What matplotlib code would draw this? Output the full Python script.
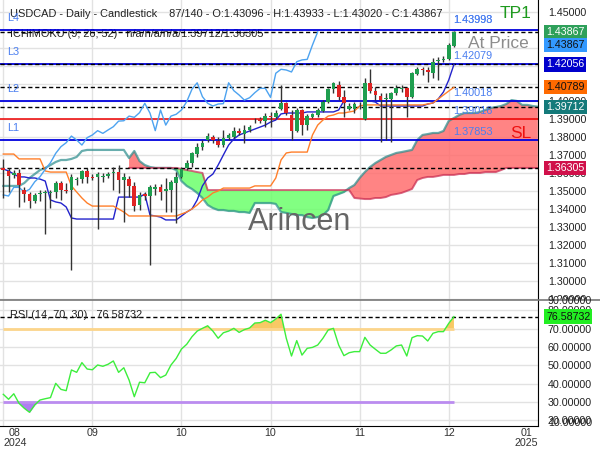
import numpy as np
import matplotlib
matplotlib.use('Agg')
import matplotlib.pyplot as plt
from matplotlib.transforms import blended_transform_factory
from matplotlib.lines import Line2D
from matplotlib.patches import Rectangle
from matplotlib.ticker import FormatStrFormatter

plt.rcParams['font.family'] = ['Liberation Sans', 'DejaVu Sans']

# ---- candle data (87 daily bars) ----
opens = [1.3629, 1.3616, 1.3592, 1.3604, 1.3508, 1.3486, 1.3449, 1.3486, 1.3490, 1.3493,
         1.3499, 1.3549, 1.3508, 1.3508, 1.3562, 1.3568, 1.3614, 1.3582, 1.3579, 1.3579,
         1.3586, 1.3601, 1.3610, 1.3564, 1.3569, 1.3531, 1.3425, 1.3486, 1.3475, 1.3512,
         1.3523, 1.3503, 1.3508, 1.3549, 1.3582, 1.3629, 1.3657, 1.3708, 1.3749, 1.3786,
         1.3801, 1.3782, 1.3758, 1.3796, 1.3804, 1.3838, 1.3819, 1.3842, 1.3891, 1.3901,
         1.3893, 1.3919, 1.3912, 1.3957, 1.3990, 1.3925, 1.3838, 1.3953, 1.3869, 1.3912,
         1.3925, 1.3949, 1.3999, 1.4068, 1.4092, 1.4027, 1.3957, 1.3957, 1.3986, 1.3901,
         1.4104, 1.4060, 1.4031, 1.4012, 1.4012, 1.4046, 1.4068, 1.4073, 1.4023, 1.4153,
         1.4179, 1.4175, 1.4157, 1.4225, 1.4231, 1.4236, 1.43096]
highs = [1.3679, 1.3629, 1.3619, 1.3623, 1.3527, 1.3499, 1.3493, 1.3508, 1.3508, 1.3508,
         1.3560, 1.3560, 1.3546, 1.3596, 1.3582, 1.3619, 1.3629, 1.3597, 1.3610, 1.3604,
         1.3608, 1.3638, 1.3647, 1.3601, 1.3586, 1.3554, 1.3499, 1.3499, 1.3536, 1.3542,
         1.3542, 1.3575, 1.3564, 1.3610, 1.3638, 1.3675, 1.3721, 1.3768, 1.3786, 1.3823,
         1.3814, 1.3804, 1.3842, 1.3823, 1.3860, 1.3851, 1.3869, 1.3869, 1.3907, 1.3912,
         1.3938, 1.3943, 1.3953, 1.4092, 1.3995, 1.3953, 1.3962, 1.3957, 1.3931, 1.3938,
         1.3962, 1.4008, 1.4073, 1.4110, 1.4116, 1.4064, 1.3990, 1.3999, 1.3999, 1.4129,
         1.4179, 1.4082, 1.4046, 1.4046, 1.4054, 1.4092, 1.4092, 1.4082, 1.4166, 1.4190,
         1.4193, 1.4193, 1.4240, 1.4249, 1.4253, 1.4327, 1.43933]
lows = [1.3462, 1.3499, 1.3573, 1.3416, 1.3443, 1.3407, 1.3438, 1.3449, 1.3262, 1.3410,
        1.3462, 1.3453, 1.3490, 1.3064, 1.3536, 1.3546, 1.3546, 1.3564, 1.3292, 1.3554,
        1.3573, 1.3508, 1.3490, 1.3332, 1.3471, 1.3393, 1.3397, 1.3453, 1.3092, 1.3481,
        1.3453, 1.3388, 1.3388, 1.3323, 1.3573, 1.3619, 1.3638, 1.3693, 1.3731, 1.3777,
        1.3768, 1.3749, 1.3749, 1.3786, 1.3796, 1.3814, 1.3768, 1.3832, 1.3879, 1.3882,
        1.3860, 1.3860, 1.3907, 1.3953, 1.3925, 1.3786, 1.3832, 1.3814, 1.3842, 1.3907,
        1.3916, 1.3943, 1.3990, 1.4046, 1.4008, 1.3916, 1.3953, 1.3934, 1.3960, 1.3897,
        1.4046, 1.4008, 1.3777, 1.3786, 1.3777, 1.4036, 1.4054, 1.3916, 1.4018, 1.4147,
        1.4147, 1.4110, 1.4129, 1.4119, 1.4221, 1.4231, 1.43020]
closes = [1.3619, 1.3588, 1.3604, 1.3536, 1.3484, 1.3449, 1.3481, 1.3493, 1.3499, 1.3499,
          1.3549, 1.3508, 1.3503, 1.3582, 1.3568, 1.3614, 1.3582, 1.3577, 1.3599, 1.3586,
          1.3596, 1.3610, 1.3564, 1.3582, 1.3531, 1.3419, 1.3481, 1.3475, 1.3523, 1.3523,
          1.3497, 1.3512, 1.3554, 1.3582, 1.3623, 1.3660, 1.3712, 1.3749, 1.3771, 1.3808,
          1.3786, 1.3758, 1.3799, 1.3814, 1.3838, 1.3823, 1.3842, 1.3860, 1.3891, 1.3893,
          1.3919, 1.3912, 1.3938, 1.3990, 1.3935, 1.3838, 1.3953, 1.3869, 1.3919, 1.3929,
          1.3953, 1.3999, 1.4068, 1.4104, 1.4027, 1.3990, 1.3975, 1.3986, 1.3988, 1.4104,
          1.4060, 1.4036, 1.4008, 1.4021, 1.4049, 1.4073, 1.4073, 1.4023, 1.4157, 1.4179,
          1.4175, 1.4164, 1.4221, 1.4231, 1.4234, 1.4314, 1.43867]

# ---- Ichimoku (9; 26; 52) ----
tenkan = ([1.3625, 1.3614, 1.3597, 1.3581, 1.3581, 1.3575, 1.3575, 1.3569, 1.3558, 1.3453,
           1.3442, 1.3436, 1.3414, 1.3353] + [1.3347] * 8 + [1.3469] * 5 +
          [1.3486, 1.3369, 1.3364, 1.3358, 1.3342, 1.3342, 1.3342, 1.3364, 1.3386, 1.3403,
           1.3453, 1.3531, 1.3575, 1.3597, 1.3647, 1.3703, 1.3758, 1.3792, 1.3814, 1.3825,
           1.3836, 1.3847, 1.3858, 1.3869, 1.3886, 1.3897, 1.3931] + [1.3936] * 4 +
          [1.3942] * 6 + [1.3953] + [1.4003] * 6 + [1.3997] + [1.3975] * 9 +
          [1.3986, 1.3992, 1.4014, 1.4053, 1.4119, 1.42056])
kijun = ([1.3708] * 3 + [1.3681] * 5 + [1.3614] + [1.3608] * 4 +
         [1.3531, 1.3497, 1.3464, 1.3436] + [1.3419] * 5 + [1.3403, 1.3386] + [1.3364] * 10 +
         [1.3375, 1.3386, 1.3403, 1.3425, 1.3453, 1.3469, 1.3492, 1.3503] + [1.3519] * 6 +
         [1.3531] * 4 + [1.3575, 1.3675, 1.3714] + [1.3719] * 4 +
         [1.3814, 1.3869, 1.3897, 1.3919, 1.3925, 1.3936, 1.3936, 1.3942, 1.3947, 1.3975] +
         [1.3981] * 12 + [1.3986, 1.3992, 1.4014, 1.4036, 1.4058, 1.40789])
# senkou spans run 16 bars past the last candle
senkou_a = ([1.3531] * 4 + [1.3547, 1.3575, 1.3597, 1.3619, 1.3631, 1.3647, 1.3664, 1.3675,
            1.3675, 1.3681, 1.3692, 1.3725] + [1.3731] * 8 +
            [1.3686, 1.3725, 1.3669, 1.3647, 1.3636] + [1.3631] * 4 +
            [1.3619, 1.3558, 1.3531, 1.3514, 1.3492, 1.3464, 1.3425, 1.3408, 1.3397, 1.3397,
             1.3392, 1.3392, 1.3386, 1.3386, 1.3381] + [1.3436] * 4 +
            [1.3431, 1.3386, 1.3381, 1.3375, 1.3369, 1.3369, 1.3358, 1.3353, 1.3358, 1.3369,
             1.3397, 1.3475, 1.3486, 1.3497, 1.3519, 1.3536, 1.3575, 1.3608, 1.3636, 1.3658,
             1.3675, 1.3692, 1.3703, 1.3714, 1.3719, 1.3725, 1.3731, 1.3786, 1.3814, 1.3819,
             1.3825, 1.3825, 1.3836, 1.3892, 1.3908, 1.3925, 1.3936, 1.3936, 1.3936, 1.3942,
             1.3953, 1.3964, 1.3969, 1.3975, 1.3986, 1.4008, 1.4003, 1.3981, 1.3981, 1.3975,
             1.39712])
senkou_b = ([np.nan] * 24 + [1.3631] * 10 + [1.3625, 1.3619, 1.3614, 1.3608, 1.3603] +
            [1.3508] * 28 + [1.3464, 1.3461, 1.3458, 1.3458, 1.3464, 1.3464, 1.3469, 1.3481,
            1.3486, 1.3492, 1.3503, 1.3514, 1.3564, 1.3575, 1.3581, 1.3581, 1.3586] +
            [1.3592] * 3 + [1.3597] * 2 + [1.3603] * 3 + [1.3608] * 3 + [1.3619] +
            [1.3631] * 6 + [1.36305])

# ---- RSI (14) ----
rsi = [34.2, 31.5, 34.5, 29.3, 26.6, 24.4, 28.4, 31.1, 31.8, 32.4,
       40.2, 36.9, 36.2, 47.5, 46.2, 51.5, 48.0, 47.6, 50.2, 49.5,
       50.6, 52.4, 46.2, 48.7, 42.0, 32.9, 40.8, 40.5, 46.0, 46.2,
       43.3, 44.7, 50.2, 53.8, 58.9, 61.5, 65.6, 68.7, 70.2, 71.6,
       68.7, 64.8, 67.8, 68.7, 70.2, 68.0, 69.5, 70.4, 73.1, 73.3,
       74.6, 73.3, 75.3, 77.9, 64.8, 55.1, 63.5, 55.6, 59.3, 59.8,
       61.1, 64.8, 69.3, 70.2, 61.1, 55.3, 56.9, 57.5, 57.5, 65.3,
       61.1, 58.8, 56.6, 56.6, 58.4, 60.6, 61.1, 55.1, 65.1, 66.2,
       66.0, 63.3, 67.5, 68.4, 68.4, 72.9, 76.58732]

# ---- levels ----
blue_levels = [1.43993, 1.42079, 1.40018, 1.37853]
blue_names = ['L4', 'L3', 'L2', 'L1']
sl_level = 1.39016
dashed_levels = [1.43867, 1.42056, 1.40789, 1.39712, 1.36305]
tick_pos = [0, 17, 34, 51, 68, 85, 102]
tick_txt = ['08\n2024', '09', '10', '10', '11', '12', '01\n2025']

o = np.array(opens); h = np.array(highs); l = np.array(lows); c = np.array(closes)
n = len(c)
x = np.arange(n)
xs = np.arange(len(senkou_a))
sa = np.array(senkou_a); sb = np.array(senkou_b)
rs = np.array(rsi)
chikou = c[26:]

fig = plt.figure(figsize=(6, 4.5), dpi=100)
ax = fig.add_axes([0, 150 / 450, 538 / 600, 300 / 450])
rx = fig.add_axes([0, 24 / 450, 538 / 600, 126 / 450], sharex=ax)
rx.set_zorder(1)

ax.set_xlim(-0.63, 102.04)
ax.set_ylim(1.28972, 1.45639)
rx.set_ylim(16.92, 85.66)

for a in (ax, rx):
    a.grid(True, color='#e2e2e2', lw=1)
    a.set_axisbelow(True)
    a.spines['top'].set_visible(False)
    a.spines['left'].set_visible(False)
    a.spines['right'].set_color('black')
    a.yaxis.tick_right()
    a.tick_params(axis='y', length=0, pad=7, labelsize=7.7, colors='#222')
    a.yaxis.set_major_formatter(FormatStrFormatter('%.5f'))
    a.set_xticks(tick_pos)
ax.spines['bottom'].set_visible(False)
ax.tick_params(axis='x', length=0, labelbottom=False)
rx.set_xticklabels(tick_txt)
rx.tick_params(axis='x', length=0, pad=1.5, labelsize=7.7, colors='#333')
labs = rx.get_xticklabels()
for t in labs:
    t.set_linespacing(0.95)
    t.set_multialignment('center')
labs[0].set_ha('left')
labs[-1].set_ha('right')
ax.set_yticks(np.round(np.arange(1.29, 1.4501, 0.01), 2))
rx.set_yticks([20, 30, 40, 50, 60, 70, 80])

# cloud
ax.fill_between(xs, sa, sb, where=sa >= sb, interpolate=True, color='#ff6e6e', alpha=0.85, lw=0, zorder=1)
ax.fill_between(xs, sa, sb, where=sa < sb, interpolate=True, color='#6cff6c', alpha=0.85, lw=0, zorder=1)
ax.plot(xs, sa, color='#2a8c8c', lw=1.6, alpha=0.7, zorder=2)
ax.plot(xs, sb, color='#c8284e', lw=1.4, alpha=0.7, zorder=2)

# horizontal levels
for v in blue_levels:
    ax.axhline(v, color='#0000dd', lw=1.3, zorder=2)
ax.axhline(sl_level, color='#ee0000', lw=1.1, zorder=2)
for v in dashed_levels:
    ax.axhline(v, color='black', lw=1, ls=(0, (3, 2)), zorder=2)

# ichimoku lines
ax.plot(x, tenkan, color='#2323cc', lw=1, zorder=3)
ax.plot(x, kijun, color='#ff7f2a', lw=1, zorder=3)
ax.plot(x[:len(chikou)], chikou, color='#4da3f0', lw=1, zorder=3)

# candles
body_lo = np.minimum(o, c)
body_h = np.maximum(np.abs(c - o), 0.00025)
cols = np.where(c > o, '#1f9e4f', np.where(c < o, '#e02424', '#222222'))
ax.vlines(x, l, h, color='#333333', lw=1, zorder=4)
ax.bar(x, body_h, bottom=body_lo, width=0.7, color=cols, lw=0, zorder=5)

blend = blended_transform_factory(ax.transAxes, ax.transData)
for v, name in zip(blue_levels, blue_names):
    ax.annotate(name, xy=(7 / 538, v), xycoords=blend, xytext=(0, 12), textcoords='offset pixels',
                va='center', ha='left', fontsize=7.8, color='#4a7ef0', zorder=6)
for v in blue_levels + [sl_level]:
    off = 10 if v == blue_levels[0] else 8
    ax.annotate('%.5f' % v, xy=(453 / 538, v), xycoords=blend, xytext=(0, off), textcoords='offset pixels',
                va='center', ha='left', fontsize=7.8, color='#4a7ef0', zorder=6)
ax.annotate('1.43998', xy=(453 / 538, blue_levels[0]), xycoords=blend, xytext=(0, 10),
            textcoords='offset pixels', va='center', ha='left', fontsize=7.8, color='#4a7ef0', zorder=6)

# right value boxes
boxes = [(1.43867, '#2ea05a', 'white', 0), (1.43867, '#3399ff', '#111111', -13),
         (1.42056, '#0000cc', 'white', 0), (1.40789, '#ff6a00', '#111111', 0),
         (1.39712, '#147a7a', 'white', 0), (1.36305, '#d0104a', 'white', 0)]
for v, fc, tc, off in boxes:
    ax.annotate('%.5f' % v, xy=(546 / 538, v), xycoords=blend, xytext=(0, off), textcoords='offset pixels',
                va='center', ha='left', fontsize=7.7, color=tc, annotation_clip=False, zorder=7,
                bbox=dict(boxstyle='square,pad=0.2', fc=fc, ec='none'))

# chart texts
ax.text(10 / 538, 1 - 14 / 300, 'USDCAD - Daily - Candlestick    87/140 - O:1.43096 - H:1.43933 - L:1.43020 - C:1.43867',
        transform=ax.transAxes, fontsize=7.9, va='center', ha='left', color='#222', zorder=1)
ax.text(10 / 538, 1 - 34 / 300, 'ICHIMOKU (9; 26; 52)   n/a/n/a/n/a/1.39712/1.36305',
        transform=ax.transAxes, fontsize=7.9, va='center', ha='left', color='#222', zorder=1)
ax.text(500 / 538, 1 - 13 / 300, 'TP1', transform=ax.transAxes, fontsize=12.5, color='#1e9a1e', va='center', ha='left')
ax.text(468 / 538, 1 - 44 / 300, 'At Price', transform=ax.transAxes, fontsize=12.5, color='#8c8c8c', va='center', ha='left')
ax.text(510 / 538, 1 - 133 / 300, 'SL', transform=ax.transAxes, fontsize=12.5, color='#ee1111', va='center', ha='left')
ax.text(300 / 538, 1 - 222 / 300, 'Arincen', transform=ax.transAxes, fontsize=22, color='#666666',
        va='center', ha='center', zorder=6)

# RSI panel
rx.fill_between(x, rs, 70, where=rs >= 70, interpolate=True, color='#f7c04a', alpha=0.85, lw=0, zorder=1)
rx.fill_between(x, rs, 30, where=rs <= 30, interpolate=True, color='#a066ee', alpha=0.85, lw=0, zorder=1)
rx.hlines(70, 0, n - 1, color='#fcd58a', lw=2, zorder=2)
rx.hlines(30, 0, n - 1, color='#bb8cf0', lw=2, zorder=2)
rx.axhline(rsi[-1], color='black', lw=1, ls=(0, (3, 2)), zorder=2)
rx.plot(x, rs, color='#3cee3c', lw=1, zorder=3)
rx.text(10 / 538, 1 - 15 / 126, 'RSI (14, 70, 30)   %.5f' % rsi[-1], transform=rx.transAxes,
        fontsize=7.9, va='center', ha='left', color='#222')
rblend = blended_transform_factory(rx.transAxes, rx.transData)
rx.annotate('%.5f' % rsi[-1], xy=(546 / 538, rsi[-1]), xycoords=rblend, va='center', ha='left',
            fontsize=7.7, color='#111', annotation_clip=False, zorder=7,
            bbox=dict(boxstyle='square,pad=0.2', fc='#22ee22', ec='none'))
fig.text(548 / 600, 1 - 301.5 / 450, '90.00000', fontsize=7.7, color='#222', va='center', ha='left')
fig.text(548 / 600, 1 - 423.5 / 450, '10.00000', fontsize=7.7, color='#222', va='center', ha='left')
rx.spines['bottom'].set_color('black')

# cover below the main panel's right labels, then the separator
fig.add_artist(Rectangle((538 / 600, 0), 62 / 600, 150 / 450, transform=fig.transFigure,
                         fc='white', ec='none', zorder=0.5))
fig.add_artist(Line2D([0, 1], [150 / 450, 150 / 450], transform=fig.transFigure, color='#777777', lw=1.2, zorder=2))

fig.savefig('out.png', dpi=100)
